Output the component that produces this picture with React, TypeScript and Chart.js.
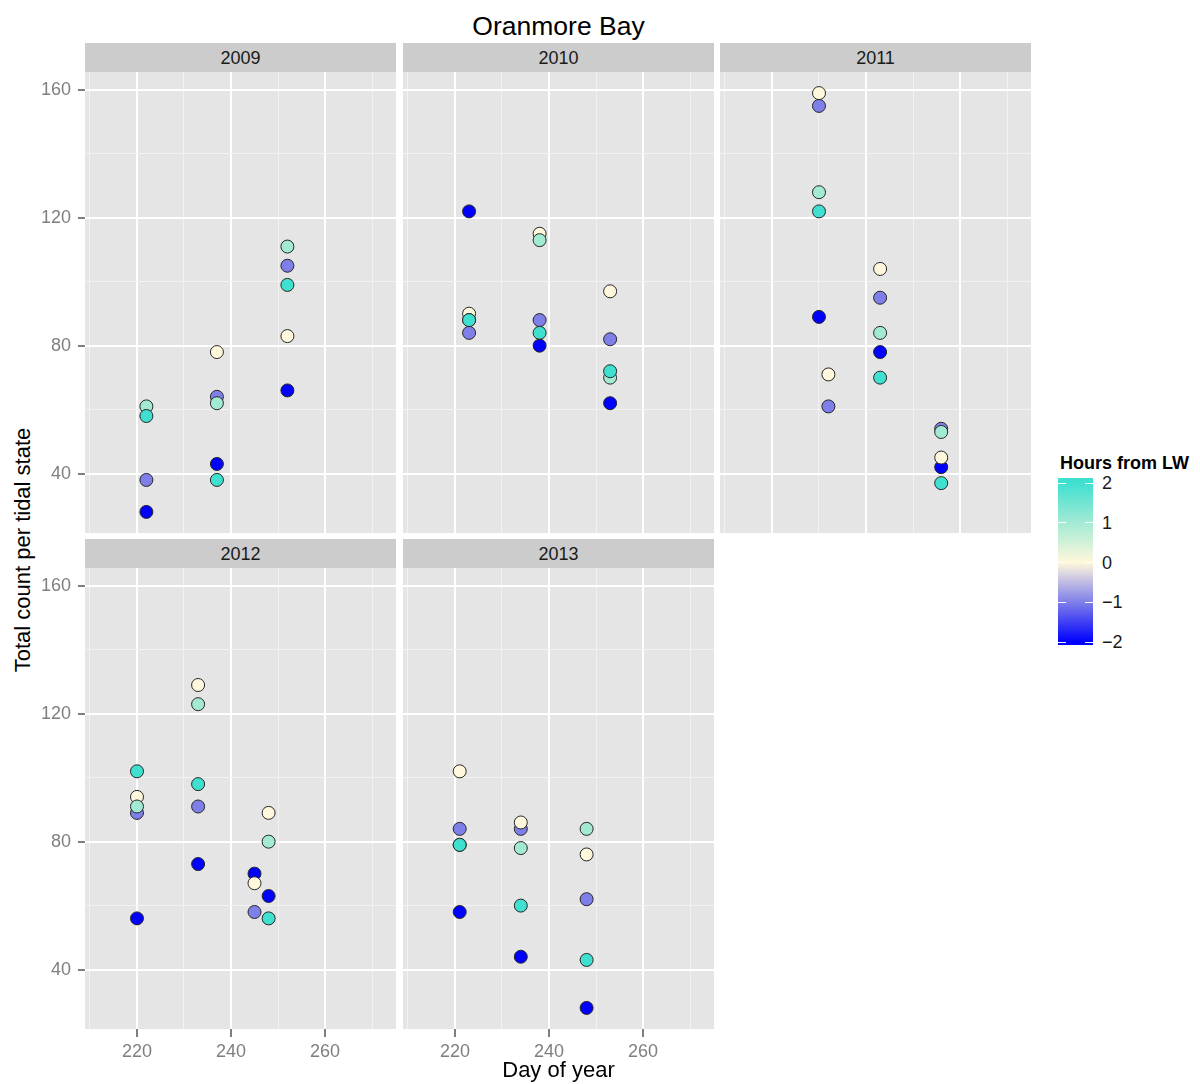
import React, { useEffect, useRef } from "react";
import { Chart, registerables } from "chart.js";

Chart.register(...registerables);

// ---------------- data ----------------
const years = ["2009", "2010", "2011", "2012", "2013"];

const day2009 = [222, 222, 222, 222, 237, 237, 237, 237, 237, 252, 252, 252, 252, 252];
const count2009 = [61, 58, 38, 28, 78, 64, 62, 43, 38, 111, 105, 99, 83, 66];
const hours2009 = [1, 2, -1, -2, 0, -1, 1, -2, 2, 1, -1, 2, 0, -2];

const day2010 = [223, 223, 223, 223, 223, 238, 238, 238, 238, 238, 253, 253, 253, 253, 253];
const count2010 = [122, 90, 84, 88, 88, 115, 113, 88, 84, 80, 97, 82, 70, 72, 62];
const hours2010 = [-2, 0, -1, 1, 2, 0, 1, -1, 2, -2, 0, -1, 1, 2, -2];

const day2011 = [230, 230, 230, 230, 230, 232, 232, 243, 243, 243, 243, 243, 256, 256, 256, 256, 256];
const count2011 = [159, 155, 128, 122, 89, 71, 61, 104, 95, 84, 78, 70, 54, 53, 42, 45, 37];
const hours2011 = [0, -1, 1, 2, -2, 0, -1, 0, -1, 1, -2, 2, -1, 1, -2, 0, 2];

const day2012 = [220, 220, 220, 220, 220, 233, 233, 233, 233, 233, 245, 245, 245, 248, 248, 248, 248];
const count2012 = [102, 94, 89, 91, 56, 129, 123, 98, 91, 73, 70, 67, 58, 89, 80, 63, 56];
const hours2012 = [2, 0, -1, 1, -2, 0, 1, 2, -1, -2, -2, 0, -1, 0, 1, -2, 2];

const day2013 = [221, 221, 221, 221, 221, 234, 234, 234, 234, 234, 248, 248, 248, 248, 248];
const count2013 = [102, 84, 79, 79, 58, 84, 86, 78, 60, 44, 84, 76, 62, 43, 28];
const hours2013 = [0, -1, 1, 2, -2, -1, 0, 1, 2, -2, 1, 0, -1, 2, -2];

const xMajorTicks = [220, 240, 260];
const yMajorTicks = [40, 80, 120, 160];
const legendValues = [2, 1, 0, -1, -2];
const legendLabels = ["2", "1", "0", "\u22121", "\u22122"];
const hourLevels = [-2, -1, 0, 1, 2];
const hourColors = ["#0000FF", "#7F7FEA", "#FFF8DC", "#A3EAD5", "#40E0D0"];

// ---------------- styling ----------------
const X_MIN = 208.94;
const X_MAX = 275.1;
const Y_MIN = 21.4;
const Y_MAX = 165.6;
const FONT = "'Liberation Sans', Arial, Helvetica, sans-serif";
const PANEL_BG = "#E5E5E5";
const STRIP_BG = "#CCCCCC";

function colorFor(h: number) {
  return hourColors[hourLevels.indexOf(h)];
}

const panelBg = {
  id: "panelBg",
  beforeDraw(chart: any) {
    const { ctx, chartArea: a } = chart;
    ctx.save();
    ctx.fillStyle = PANEL_BG;
    ctx.fillRect(a.left, a.top, a.right - a.left, a.bottom - a.top);
    ctx.restore();
  },
};

type PanelProps = {
  days: number[];
  counts: number[];
  hours: number[];
  left: number;
  top: number;
  width: number;
  height: number;
  showX: boolean;
  showY: boolean;
};

const Y_AXIS_W = 45;
const X_AXIS_H = 40;

function Panel({ days, counts, hours, left, top, width, height, showX, showY }: PanelProps) {
  const ref = useRef<HTMLCanvasElement>(null);
  const cw = width + (showY ? Y_AXIS_W : 0);
  const ch = height + (showX ? X_AXIS_H : 0);
  const cl = left - (showY ? Y_AXIS_W : 0);

  useEffect(() => {
    const isMajorX = (v: any) => xMajorTicks.includes(Number(v));
    const isMajorY = (v: any) => yMajorTicks.includes(Number(v));
    const chart = new Chart(ref.current as HTMLCanvasElement, {
      type: "scatter",
      data: {
        datasets: [
          {
            data: days.map((d, i) => ({ x: d, y: counts[i] })),
            backgroundColor: hours.map(colorFor),
            borderColor: "#262626",
            borderWidth: 1,
            pointRadius: 6.5,
            pointHoverRadius: 6.5,
            clip: false as any,
          } as any,
        ],
      },
      options: {
        animation: false,
        responsive: false,
        maintainAspectRatio: false,
        events: [],
        layout: { padding: 0, autoPadding: false } as any,
        plugins: {
          legend: { display: false },
          tooltip: { enabled: false },
        },
        scales: {
          x: {
            type: "linear",
            min: X_MIN,
            max: X_MAX,
            border: { display: false },
            grid: {
              color: (c: any) => (c.tick && isMajorX(c.tick.value) ? "#FFFFFF" : "#F2F2F2"),
              lineWidth: (c: any) => (c.tick && isMajorX(c.tick.value) ? 2 : 1),
              drawTicks: showX,
              tickLength: 8,
              tickWidth: 2,
              tickColor: (c: any) => (c.tick && isMajorX(c.tick.value) ? "#7F7F7F" : "rgba(0,0,0,0)"),
            },
            ticks: {
              display: showX,
              stepSize: 10,
              includeBounds: false,
              autoSkip: false,
              maxRotation: 0,
              minRotation: 0,
              padding: 4,
              color: "#7F7F7F",
              font: { family: FONT, size: 18 },
              callback: (v: any) => (isMajorX(v) ? String(v) : ""),
            },
            afterFit: (s: any) => {
              s.height = showX ? X_AXIS_H : 0;
              s.paddingLeft = 0;
              s.paddingRight = 0;
              s.paddingTop = 0;
              s.paddingBottom = 0;
            },
          } as any,
          y: {
            type: "linear",
            min: Y_MIN,
            max: Y_MAX,
            border: { display: false },
            grid: {
              color: (c: any) => (c.tick && isMajorY(c.tick.value) ? "#FFFFFF" : "#F2F2F2"),
              lineWidth: (c: any) => (c.tick && isMajorY(c.tick.value) ? 2 : 1),
              drawTicks: showY,
              tickLength: 7,
              tickWidth: 2,
              tickColor: (c: any) => (c.tick && isMajorY(c.tick.value) ? "#7F7F7F" : "rgba(0,0,0,0)"),
            },
            ticks: {
              display: showY,
              stepSize: 20,
              includeBounds: false,
              autoSkip: false,
              padding: 7,
              color: "#7F7F7F",
              font: { family: FONT, size: 18 },
              callback: (v: any) => (isMajorY(v) ? String(v) : ""),
            },
            afterFit: (s: any) => {
              s.width = showY ? Y_AXIS_W : 0;
              s.paddingLeft = 0;
              s.paddingRight = 0;
              s.paddingTop = 0;
              s.paddingBottom = 0;
            },
          } as any,
        },
      },
      plugins: [panelBg],
    });
    return () => chart.destroy();
  }, []);

  return (
    <canvas
      ref={ref}
      width={cw}
      height={ch}
      style={{ position: "absolute", left: cl, top, width: cw, height: ch, display: "block" }}
    />
  );
}

function Strip({ label, left, top, width }: { label: string; left: number; top: number; width: number }) {
  return (
    <div
      style={{
        position: "absolute",
        left,
        top,
        width,
        height: 29,
        background: STRIP_BG,
        color: "#1A1A1A",
        fontFamily: FONT,
        fontSize: 18,
        lineHeight: "30px",
        textAlign: "center",
      }}
    >
      {label}
    </div>
  );
}

const panelData = [
  { days: day2009, counts: count2009, hours: hours2009 },
  { days: day2010, counts: count2010, hours: hours2010 },
  { days: day2011, counts: count2011, hours: hours2011 },
  { days: day2012, counts: count2012, hours: hours2012 },
  { days: day2013, counts: count2013, hours: hours2013 },
];

const colLefts = [85, 403, 720];
const PANEL_W = 311;
const PANEL_H = 461;
const rowStripTops = [43, 539];
const rowPlotTops = [72, 568];

// legend geometry
const BAR_TOP = 478;
const BAR_H = 167;
const BAR_LEFT = 1058;
const BAR_W = 35;
const V2_Y = 5; // offset of value 2 inside bar
const PX_PER_UNIT = 39.75;

export default function App() {
  const gradStops = legendValues
    .map((v) => `${colorFor(v)} ${V2_Y + (2 - v) * PX_PER_UNIT}px`)
    .join(", ");
  return (
    <div
      style={{
        position: "absolute",
        left: 0,
        top: 0,
        width: 1200,
        height: 1084,
        background: "#FFFFFF",
        overflow: "hidden",
        fontFamily: FONT,
      }}
    >
      {/* title */}
      <div
        style={{
          position: "absolute",
          left: 85,
          width: 947,
          top: 13,
          fontSize: 26.5,
          lineHeight: "27px",
          textAlign: "center",
          color: "#000",
        }}
      >
        Oranmore Bay
      </div>

      {panelData.map((p, i) => {
        const row = i < 3 ? 0 : 1;
        const col = i % 3;
        return (
          <React.Fragment key={years[i]}>
            <Strip label={years[i]} left={colLefts[col]} top={rowStripTops[row]} width={PANEL_W} />
            <Panel
              days={p.days}
              counts={p.counts}
              hours={p.hours}
              left={colLefts[col]}
              top={rowPlotTops[row]}
              width={PANEL_W}
              height={PANEL_H}
              showX={row === 1}
              showY={col === 0}
            />
          </React.Fragment>
        );
      })}

      {/* axis titles */}
      <div
        style={{
          position: "absolute",
          left: 85,
          width: 947,
          top: 1059,
          fontSize: 22,
          lineHeight: "22px",
          textAlign: "center",
          color: "#000",
        }}
      >
        Day of year
      </div>
      <div
        style={{
          position: "absolute",
          left: 23 - 200,
          top: 550 - 11,
          width: 400,
          height: 22,
          fontSize: 22,
          lineHeight: "22px",
          textAlign: "center",
          color: "#000",
          transform: "rotate(-90deg)",
          transformOrigin: "50% 50%",
        }}
      >
        Total count per tidal state
      </div>

      {/* legend */}
      <div
        style={{
          position: "absolute",
          left: 1060,
          top: 454,
          fontSize: 18,
          lineHeight: "18px",
          fontWeight: "bold",
          color: "#000",
          whiteSpace: "nowrap",
        }}
      >
        Hours from LW
      </div>
      <div
        style={{
          position: "absolute",
          left: BAR_LEFT,
          top: BAR_TOP,
          width: BAR_W,
          height: BAR_H,
          background: `linear-gradient(to top, ${hourColors[0]} 0px, ${hourColors[0]} 3px, transparent 3px), linear-gradient(to bottom, ${hourColors[4]} 0px, ${gradStops}, ${hourColors[0]} ${BAR_H}px)`,
        }}
      >
        {legendValues.map((v) => (
          <React.Fragment key={v}>
            <div
              style={{
                position: "absolute",
                left: 0,
                top: V2_Y + (2 - v) * PX_PER_UNIT - 0.5,
                width: 8,
                height: 1,
                background: "#FFFFFF",
              }}
            />
            <div
              style={{
                position: "absolute",
                left: BAR_W - 8,
                top: V2_Y + (2 - v) * PX_PER_UNIT - 0.5,
                width: 8,
                height: 1,
                background: "#FFFFFF",
              }}
            />
          </React.Fragment>
        ))}
      </div>
      {legendValues.map((v, i) => (
        <div
          key={v}
          style={{
            position: "absolute",
            left: 1102,
            top: BAR_TOP + V2_Y + (2 - v) * PX_PER_UNIT - 8.8,
            fontSize: 18,
            lineHeight: "18px",
            color: "#1A1A1A",
            whiteSpace: "nowrap",
          }}
        >
          {legendLabels[i]}
        </div>
      ))}
    </div>
  );
}
